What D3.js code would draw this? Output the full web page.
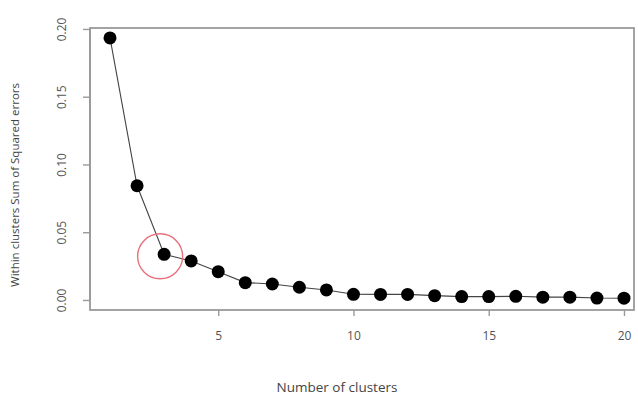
<!DOCTYPE html>
<html>
<head>
<meta charset="utf-8">
<script src="https://cdn.jsdelivr.net/npm/d3@7"></script>
<style>
  body { margin: 0; background: #fff; }
  text { font-family: "Open Sans", "Liberation Sans", sans-serif; }
</style>
</head>
<body>
<div id="chart"></div>
<script>
// elbow plot data
var clusters = [1, 2, 3, 4, 5, 6, 7, 8, 9, 10, 11, 12, 13, 14, 15, 16, 17, 18, 19, 20];
var sse = [0.1934, 0.0843, 0.0337, 0.0288, 0.0209, 0.0128, 0.0118, 0.0094, 0.0074, 0.0042,
           0.0041, 0.0041, 0.0032, 0.0025, 0.0025, 0.0027, 0.0021, 0.0021, 0.0014, 0.0013];
var xTicks = [5, 10, 15, 20];
var yTicks = [0.00, 0.05, 0.10, 0.15, 0.20];
var highlight = 3;

(() => {
    var width = 638;
    var height = 396;

    var data = clusters.map(function (c, i) {
        return { k: c, v: sse[i] };
    });

    var svg = d3.select("#chart")
        .append("svg")
        .attr("width", width)
        .attr("height", height);

    var x = d3.scaleLinear()
        .domain([0.26, 20.37])
        .range([90, 634]);

    var y = d3.scaleLinear()
        .domain([-0.0074, 0.2007])
        .range([310, 28]);

    var axisColor = "#9a9a9a";
    var labelColor = "#555";

    // frame
    svg.append("rect")
        .attr("x", x.range()[0])
        .attr("y", y.range()[1])
        .attr("width", x.range()[1] - x.range()[0])
        .attr("height", y.range()[0] - y.range()[1])
        .attr("fill", "none")
        .attr("stroke", axisColor)
        .attr("stroke-width", 1.8);

    // y axis
    var yAxis = svg.append("g")
        .attr("transform", "translate(" + x.range()[0] + ",0)")
        .call(d3.axisLeft(y).tickValues(yTicks).tickSize(7).tickFormat(d3.format(".2f")));
    yAxis.select(".domain")
        .attr("d", "M0," + y(0) + "V" + y(0.2))
        .attr("stroke", axisColor)
        .attr("stroke-width", 1.8);
    yAxis.selectAll(".tick line").attr("stroke", axisColor).attr("stroke-width", 1.4);
    yAxis.selectAll(".tick text")
        .attr("x", null).attr("dy", null)
        .attr("transform", "translate(-27,0) rotate(-90)")
        .attr("text-anchor", "middle")
        .attr("dominant-baseline", "middle")
        .attr("font-size", "12px")
        .attr("fill", labelColor);

    // x axis
    var xAxis = svg.append("g")
        .attr("transform", "translate(0," + y.range()[0] + ")")
        .call(d3.axisBottom(x).tickValues(xTicks).tickSize(6).tickFormat(d3.format("d")));
    xAxis.select(".domain").remove();
    xAxis.selectAll(".tick line").attr("stroke", axisColor).attr("stroke-width", 1.4);
    xAxis.selectAll(".tick text")
        .attr("y", 27)
        .attr("dy", null)
        .attr("dominant-baseline", "middle")
        .attr("font-size", "12px")
        .attr("fill", labelColor);

    // line + points
    var line = d3.line()
        .x(function (d) { return x(d.k); })
        .y(function (d) { return y(d.v); });

    svg.append("path")
        .datum(data)
        .attr("d", line)
        .attr("fill", "none")
        .attr("stroke", "#444")
        .attr("stroke-width", 1.1);

    svg.selectAll(".pt")
        .data(data)
        .join("circle")
        .attr("class", "pt")
        .attr("cx", function (d) { return x(d.k); })
        .attr("cy", function (d) { return y(d.v); })
        .attr("r", 6.5)
        .attr("fill", "#000");

    // red ring round the elbow
    svg.append("circle")
        .attr("cx", x(highlight) - 4)
        .attr("cy", y(sse[highlight - 1]) + 2)
        .attr("r", 22.5)
        .attr("fill", "none")
        .attr("stroke", "#e8707c")
        .attr("stroke-width", 1.4);

    // axis titles
    svg.append("text")
        .attr("transform", "translate(16,185) rotate(-90)")
        .attr("text-anchor", "middle")
        .attr("dominant-baseline", "middle")
        .attr("font-size", "11.5px")
        .attr("fill", "#444")
        .text("Within clusters Sum of Squared errors");

    svg.append("text")
        .attr("x", 337)
        .attr("y", 388)
        .attr("text-anchor", "middle")
        .attr("dominant-baseline", "middle")
        .attr("font-size", "13.5px")
        .attr("fill", "#444")
        .text("Number of clusters");
})();
</script>
</body>
</html>
